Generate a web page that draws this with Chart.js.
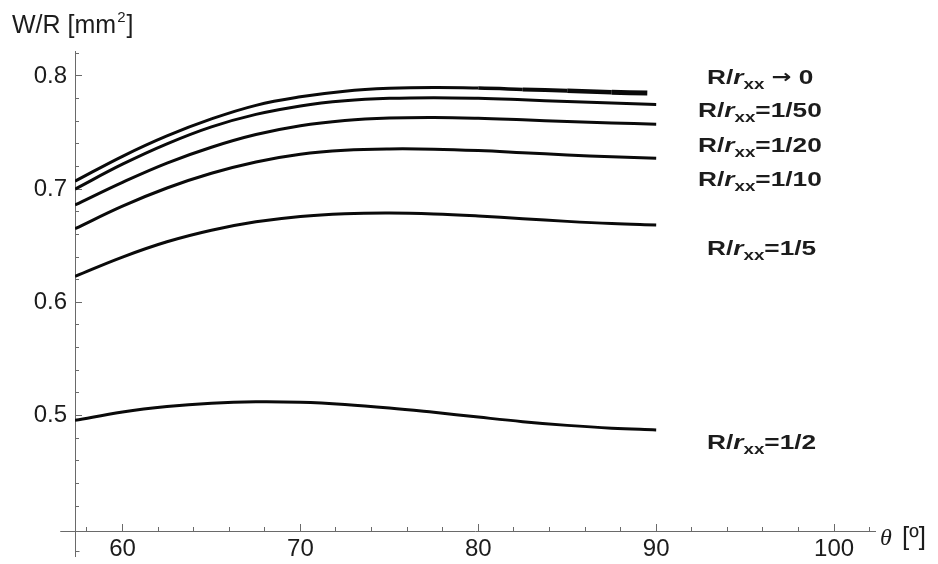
<!DOCTYPE html>
<html>
<head>
<meta charset="utf-8">
<script src="https://cdn.jsdelivr.net/npm/chart.js@4.4.0/dist/chart.umd.min.js"></script>
<style>
  html, body { margin: 0; padding: 0; background: #fff; }
  #wrap { width: 938px; height: 564px; }
</style>
</head>
<body>
<div id="wrap"><canvas id="grafica" width="938" height="564"></canvas></div>
<script>
// angulo theta [grados]
const thetas = [57.33, 60, 62.5, 65, 67.5, 70, 72.5, 75, 77.5, 80, 82.5, 85, 87.5, 90]
// la curva R/rxx -> 0 termina un poco antes de 90
const thetasCero = [57.33, 60, 62.5, 65, 67.5, 70, 72.5, 75, 77.5, 80, 82.5, 85, 87.5, 89.5]

// W/R [mm2]
const wCero = [0.707, 0.729, 0.747, 0.762, 0.774, 0.7815, 0.7865, 0.789, 0.7898, 0.7893, 0.7881, 0.7868, 0.7856, 0.7848]
const w50 = [0.700, 0.722, 0.740, 0.755, 0.766, 0.7735, 0.778, 0.7802, 0.7808, 0.7802, 0.7789, 0.7774, 0.776, 0.7748]
const w20 = [0.686, 0.706, 0.723, 0.737, 0.7482, 0.756, 0.7606, 0.7628, 0.7633, 0.7626, 0.7612, 0.7597, 0.7584, 0.7574]
const w10 = [0.665, 0.685, 0.701, 0.714, 0.724, 0.7308, 0.7343, 0.7355, 0.7353, 0.7341, 0.7322, 0.7302, 0.7285, 0.7273]
const w5 = [0.623, 0.640, 0.6535, 0.6637, 0.6711, 0.6759, 0.6783, 0.6789, 0.6781, 0.6763, 0.6739, 0.6715, 0.6696, 0.6684]
const w2 = [0.4957, 0.5032, 0.508, 0.5109, 0.5121, 0.5117, 0.5098, 0.5067, 0.5028, 0.4986, 0.4946, 0.4913, 0.4888, 0.4873]

const rotulos = [' \u2192 0', '=1/50', '=1/20', '=1/10', '=1/5', '=1/2']
const xTicks = [60, 70, 80, 90, 100]
const yTicks = [0.5, 0.6, 0.7, 0.8]

// donde va cada rotulo (x, linea base)
const posRotulos = [[707, 84], [698, 117], [698, 152], [698, 186], [707, 255], [707, 449]]

const ejeColor = '#6a6a6a'
const textoColor = '#1c1c1c'
const familia = '"Liberation Sans", Arial, sans-serif'

function puntos(xs, ys) {
    return xs.map((t, i) => ({ x: t, y: ys[i] }))
}

const series = [
    puntos(thetasCero, wCero),
    puntos(thetas, w50),
    puntos(thetas, w20),
    puntos(thetas, w10),
    puntos(thetas, w5),
    puntos(thetas, w2)
]

const datasets = series.map((d, i) => {
    const ds = {
        label: 'R/rxx' + rotulos[i],
        data: d,
        borderColor: '#0a0a0a',
        borderWidth: 3,
        pointRadius: 0,
        fill: false,
        tension: 0.4
    }
    if (i === 0) {
        // el final de esta curva sale con ruido en la figura
        ds.segment = {
            borderWidth: c => {
                const t = c.p0.parsed.x
                if (t >= 87) return 5
                if (t >= 84) return 4.5
                if (t >= 81) return 4
                if (t >= 78) return 3.5
                return 3
            }
        }
    }
    return ds
})

function alinear(v) {
    return Math.round(v - 0.5) + 0.5
}

// prolongaciones de los ejes (estilo Mathematica, se cruzan)
const ejesExtra = {
    id: 'ejesExtra',
    afterDraw(chart) {
        const { ctx, chartArea, scales } = chart
        const ax = alinear(chartArea.left)
        const ay = alinear(chartArea.bottom)
        ctx.save()
        ctx.strokeStyle = ejeColor
        ctx.lineWidth = 1
        ctx.beginPath()
        ctx.moveTo(scales.x.getPixelForValue(56.5), ay)
        ctx.lineTo(ax, ay)
        ctx.moveTo(ax, ay)
        ctx.lineTo(ax, scales.y.getPixelForValue(0.375))
        const t38 = alinear(scales.y.getPixelForValue(0.38))
        ctx.moveTo(ax, t38)
        ctx.lineTo(ax + 4, t38)
        ctx.stroke()
        ctx.restore()
    }
}

const textos = {
    id: 'textos',
    afterDraw(chart) {
        const { ctx } = chart
        ctx.save()
        ctx.fillStyle = textoColor
        ctx.textAlign = 'left'
        ctx.textBaseline = 'alphabetic'

        // titulo eje y
        ctx.font = '25px ' + familia
        ctx.fillText('W/R [mm', 12, 33)
        let w = ctx.measureText('W/R [mm').width
        ctx.font = '15px ' + familia
        ctx.fillText('2', 12 + w + 1, 22)
        w += ctx.measureText('2').width + 2
        ctx.font = '25px ' + familia
        ctx.fillText(']', 12 + w, 33)

        // titulo eje x
        ctx.font = 'italic 24px "Liberation Serif", serif'
        ctx.fillText('\u03b8', 880, 545)
        ctx.font = '26px ' + familia
        ctx.fillText('[\u00ba]', 902, 545)

        // rotulos de las curvas
        rotulos.forEach((r, i) => {
            const [x0, y0] = posRotulos[i]
            const piezas = [
                ['R/', 'bold 21px ' + familia, 0],
                ['r', 'italic bold 21px ' + familia, 0],
                ['xx', 'bold 15px ' + familia, 5]
            ]
            // la flecha se ve mejor con DejaVu
            r.split(/(\u2192)/).forEach(p => {
                if (p === '\u2192') piezas.push([p, 'bold 19px "DejaVu Sans", sans-serif', -1])
                else if (p) piezas.push([p, 'bold 21px ' + familia, 0])
            })
            ctx.save()
            ctx.translate(x0, y0)
            ctx.scale(1.25, 1)
            let x = 0
            piezas.forEach(([t, f, dy]) => {
                ctx.font = f
                ctx.fillText(t, x, dy)
                x += ctx.measureText(t).width
            })
            ctx.restore()
        })
        ctx.restore()
    }
}

const esTick = (lista, v) => lista.some(t => Math.abs(t - v) < 1e-6)
const sinCero = c => (c.tick && c.tick.value < 0.405) ? 'rgba(0,0,0,0)' : ejeColor

new Chart(document.getElementById('grafica'), {
    type: 'line',
    data: { datasets: datasets },
    plugins: [ejesExtra, textos],
    options: {
        responsive: false,
        animation: false,
        devicePixelRatio: 1,
        layout: { padding: { top: 51, right: 63, bottom: 0, left: 0 } },
        plugins: {
            legend: { display: false },
            tooltip: { enabled: false }
        },
        scales: {
            x: {
                type: 'linear',
                position: 'bottom',
                weight: 1,
                min: 57.33,
                max: 102.3,
                border: { display: true, color: ejeColor, width: 1 },
                grid: { drawOnChartArea: false, drawTicks: true, tickLength: -7, tickColor: ejeColor },
                ticks: {
                    stepSize: 10,
                    autoSkip: false,
                    includeBounds: false,
                    maxRotation: 0,
                    padding: 11,
                    color: textoColor,
                    font: { family: familia, size: 24 },
                    callback: v => esTick(xTicks, v) ? String(v) : ''
                },
                afterFit: s => { s.height = 33 }
            },
            xMenor: {
                type: 'linear',
                position: 'bottom',
                weight: 0,
                min: 57.33,
                max: 102.3,
                border: { display: false },
                grid: { drawOnChartArea: false, drawTicks: true, tickLength: -4, tickColor: ejeColor },
                ticks: { display: false, stepSize: 2, autoSkip: false, includeBounds: false, maxTicksLimit: 100 },
                afterFit: s => { s.height = 0 }
            },
            y: {
                type: 'linear',
                position: 'left',
                weight: 1,
                min: 0.398,
                max: 0.822,
                border: { display: true, color: ejeColor, width: 1 },
                grid: { drawOnChartArea: false, drawTicks: true, tickLength: -7, tickColor: sinCero },
                ticks: {
                    stepSize: 0.1,
                    autoSkip: false,
                    includeBounds: false,
                    padding: 15,
                    color: textoColor,
                    font: { family: familia, size: 24 },
                    callback: v => esTick(yTicks, v) ? v.toFixed(1) : ''
                },
                afterFit: s => { s.width = 75 }
            },
            yMenor: {
                type: 'linear',
                position: 'left',
                weight: 0,
                min: 0.398,
                max: 0.822,
                border: { display: false },
                grid: { drawOnChartArea: false, drawTicks: true, tickLength: -4, tickColor: sinCero },
                ticks: { display: false, stepSize: 0.02, autoSkip: false, includeBounds: false, maxTicksLimit: 100 },
                afterFit: s => { s.width = 0 }
            }
        }
    }
})
</script>
</body>
</html>
